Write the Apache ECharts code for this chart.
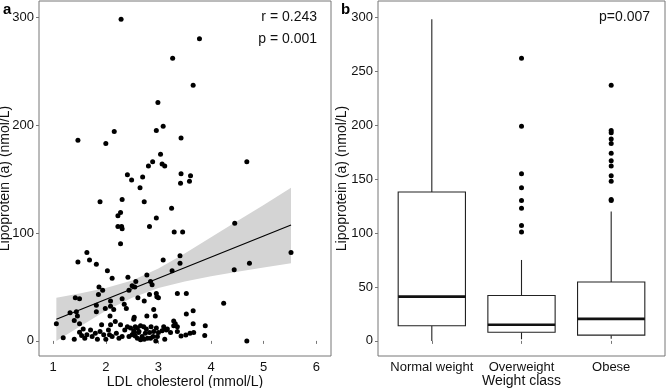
<!DOCTYPE html>
<html>
<head>
<meta charset="utf-8">
<script src="https://cdn.jsdelivr.net/npm/echarts@6/dist/echarts.min.js"></script>
<style>
  html, body { margin: 0; padding: 0; background: #fff; }
  #chart { width: 669px; height: 388px; }
</style>
</head>
<body>
<div id="chart"></div>
<script>
// panel a: LDL cholesterol vs Lp(a)
var scatterPoints = [
  [2.29, 298], [3.78, 280], [3.27, 262], [3.66, 237], [2.99, 221], [2.16, 194], [1.47, 186], [2.0, 183],
  [2.96, 195], [3.09, 199], [3.43, 188], [4.68, 166], [3.04, 173], [2.89, 166], [2.81, 162], [3.07, 164],
  [3.12, 162], [2.41, 154], [2.49, 149], [2.70, 152], [2.65, 142], [3.43, 155], [3.61, 153], [3.42, 146],
  [3.59, 148],
  [1.89, 129], [2.31, 131], [2.73, 129], [3.25, 123], [2.28, 119], [2.23, 116], [2.96, 114], [2.23, 106],
  [2.30, 106], [2.31, 104], [2.83, 106], [3.30, 101], [3.46, 101], [2.28, 90], [4.45, 109], [4.44, 66],
  [4.73, 72], [5.52, 82], [1.64, 82], [1.69, 75], [1.47, 73], [1.82, 71], [2.03, 65], [3.09, 75],
  [3.41, 79], [3.41, 72], [3.26, 65], [2.12, 58], [2.42, 59], [2.57, 55], [2.78, 61], [2.85, 55],
  [2.88, 52], [2.50, 51], [2.55, 50], [2.44, 47], [1.87, 50], [1.94, 47], [1.86, 43], [1.42, 40],
  [1.50, 39], [3.36, 44], [3.53, 44], [2.97, 41], [3.0, 40], [2.83, 43], [2.96, 44], [2.61, 40],
  [2.31, 39], [2.73, 37], [2.09, 37], [2.09, 32], [1.82, 33], [2.35, 34], [2.39, 30], [2.91, 29],
  [3.66, 28], [1.82, 27], [1.32, 26], [1.44, 27], [1.99, 30], [2.15, 29], [1.46, 23], [2.08, 23],
  [2.78, 23], [2.94, 23], [3.53, 25], [1.40, 19], [1.50, 16], [3.66, 16], [2.54, 22], [2.53, 20],
  [1.06, 16], [3.32, 16], [4.24, 35], [3.89, 14], [1.19, 3], [4.68, 0], [3.88, 5], [1.40, 1.5],
  [1.50, 8], [1.57, 11], [1.54, 5], [1.60, 2.5], [1.64, 5.6], [1.71, 10], [1.74, 4], [1.80, 7],
  [1.84, 1.5], [1.89, 8.6], [1.92, 15], [1.96, 5.6], [2.0, 1.5], [2.05, 10], [2.09, 15], [2.07, 5.6],
  [2.12, 4], [2.18, 18], [2.20, 7], [2.25, 2.5], [2.28, 15], [2.31, 4], [2.36, 10], [2.41, 13],
  [2.44, 4], [2.47, 12], [2.53, 7], [2.56, 13], [2.60, 2.5], [2.63, 8.6],
  [3.67, 7.7], [3.60, 7], [3.52, 5.5], [3.43, 4.6], [3.36, 8.6], [3.29, 14], [3.17, 11], [3.10, 13],
  [3.07, 9.5], [3.23, 7.7], [3.12, 1.5], [2.98, 4], [2.95, 0], [2.90, 4], [2.85, 2.5], [2.79, 2.5],
  [2.75, 7], [2.83, 7.7], [2.91, 8.6], [2.86, 13], [2.72, 13], [2.66, 14], [2.60, 12], [2.53, 9.5],
  [2.50, 5.6], [2.56, 4.6], [2.62, 7.7], [2.66, 1], [2.69, 4], [2.73, 1.5], [2.96, 12], [3.0, 7.7],
  [2.77, 11], [3.29, 18.5], [3.15, 10], [3.36, 13]
]
// fitted line and its confidence band
var fitX = [1.06, 5.52]
var fitY = [20, 107.4]
var bandX = [1.06, 1.5, 2, 2.5, 3, 3.5, 4, 4.5, 5, 5.52]
var bandUpper = [40, 44, 49, 56, 67, 81, 96, 111, 126, 142]
var bandLower = [0, 13, 28, 40, 49, 55, 60, 64, 68, 72]

// panel b: boxplots by weight class
var weightClasses = ['Normal weight', 'Overweight', 'Obese']
var boxLow = [0, 1.5, 2]
var boxQ1 = [14, 8, 5.3]
var boxMedian = [41, 15, 20.4]
var boxQ3 = [138, 42, 54.6]
var boxHigh = [298, 75, 120]
var outlierClass = [2, 2, 2, 2, 2, 2, 2, 2, 3, 3, 3, 3, 3, 3, 3, 3, 3, 3, 3, 3]
var outlierValue = [262, 199, 155, 142, 130, 123, 107, 101, 237, 195, 193, 187, 183, 174, 167, 162, 153, 148, 131, 130]

var ticksLDL = [1, 2, 3, 4, 5, 6]
var ticksLpaA = [0, 100, 200, 300]
var ticksLpaB = [0, 50, 100, 150, 200, 250, 300]

var FONT = 'Liberation Sans, Arial, sans-serif'
var INK = '#111'
var FRAME = '#777'

var myChart = echarts.init(document.getElementById('chart'))

function zip(a, b) {
  return a.map(function (v, i) { return [v, b[i]] })
}

// grey confidence ribbon, upper edge forward then lower edge back
function renderBand(params, api) {
  var pts = []
  bandX.forEach(function (x, i) { pts.push(api.coord([x, bandUpper[i]])) })
  for (var i = bandX.length - 1; i >= 0; i--) pts.push(api.coord([bandX[i], bandLower[i]]))
  return { type: 'polygon', shape: { points: pts }, style: { fill: '#d4d4d4' } }
}

// ggplot-like box: no whisker caps, thick median
function renderBox(params, api) {
  var x = api.value(0)
  var low = api.coord([x, api.value(1)])
  var q1 = api.coord([x, api.value(2)])
  var med = api.coord([x, api.value(3)])
  var q3 = api.coord([x, api.value(4)])
  var high = api.coord([x, api.value(5)])
  var w = api.size([0.75, 0])[0]
  var thin = { stroke: '#222', lineWidth: 1.1, fill: null }
  return {
    type: 'group',
    children: [
      { type: 'line', shape: { x1: high[0], y1: high[1], x2: q3[0], y2: q3[1] }, style: thin },
      { type: 'line', shape: { x1: q1[0], y1: q1[1], x2: low[0], y2: low[1] }, style: thin },
      { type: 'rect', shape: { x: q3[0] - w / 2, y: q3[1], width: w, height: q1[1] - q3[1] },
        style: { stroke: '#222', lineWidth: 1.1, fill: '#fff' } },
      { type: 'line', shape: { x1: med[0] - w / 2, y1: med[1], x2: med[0] + w / 2, y2: med[1] },
        style: { stroke: '#111', lineWidth: 2.6 } }
    ]
  }
}

function valueAxis(grid, min, max, ticks, name, gap) {
  return {
    type: 'value',
    gridIndex: grid,
    min: min,
    max: max,
    name: name,
    nameLocation: 'middle',
    nameGap: gap,
    nameMoveOverlap: false,
    nameTextStyle: { color: INK, fontSize: 14, fontFamily: FONT },
    axisLine: { show: false },
    axisTick: { show: true, length: 3, lineStyle: { color: FRAME }, customValues: ticks },
    axisLabel: { color: INK, fontSize: 13, fontFamily: FONT, margin: 5, customValues: ticks },
    splitLine: { show: false }
  }
}

var boxData = weightClasses.map(function (c, i) {
  return [i + 1, boxLow[i], boxQ1[i], boxMedian[i], boxQ3[i], boxHigh[i]]
})

var xB = valueAxis(1, 0.4, 3.6, [1, 2, 3], 'Weight class', 18)
xB.axisLabel.formatter = function (v) { return weightClasses[Math.round(v) - 1] }

var option = {
  animation: false,
  backgroundColor: '#fff',
  grid: [
    { left: 39, top: 1, width: 292, height: 355, outerBoundsMode: 'none', containLabel: false,
      show: true, borderColor: FRAME, borderWidth: 1, backgroundColor: '#fff' },
    { left: 378, top: 1, width: 287, height: 355, outerBoundsMode: 'none', containLabel: false,
      show: true, borderColor: FRAME, borderWidth: 1, backgroundColor: '#fff' }
  ],
  xAxis: [
    valueAxis(0, 0.73, 6.28, ticksLDL, 'LDL cholesterol (mmol/L)', 19),
    xB
  ],
  yAxis: [
    valueAxis(0, -14, 315, ticksLpaA, 'Lipoprotein (a) (nmol/L)', 27),
    valueAxis(1, -14, 315, ticksLpaB, 'Lipoprotein (a) (nmol/L)', 29)
  ],
  graphic: [
    { type: 'text', x: 3, y: 10, style: { text: 'a', font: 'bold 15px ' + FONT, fill: '#000', verticalAlign: 'middle' } },
    { type: 'text', x: 341, y: 10, style: { text: 'b', font: 'bold 15px ' + FONT, fill: '#000', verticalAlign: 'middle' } },
    { type: 'text', x: 317, y: 17, style: { text: 'r = 0.243', font: '14px ' + FONT, fill: INK, align: 'right', verticalAlign: 'middle' } },
    { type: 'text', x: 317, y: 39, style: { text: 'p = 0.001', font: '14px ' + FONT, fill: INK, align: 'right', verticalAlign: 'middle' } },
    { type: 'text', x: 650, y: 17, style: { text: 'p=0.007', font: '14px ' + FONT, fill: INK, align: 'right', verticalAlign: 'middle' } }
  ],
  series: [
    {
      type: 'custom',
      xAxisIndex: 0, yAxisIndex: 0,
      renderItem: renderBand,
      data: [[bandX[0], bandLower[0]]],
      z: 1
    },
    {
      type: 'scatter',
      xAxisIndex: 0, yAxisIndex: 0,
      symbolSize: 5,
      itemStyle: { color: '#000', opacity: 1 },
      data: scatterPoints,
      z: 3
    },
    {
      type: 'line',
      xAxisIndex: 0, yAxisIndex: 0,
      symbol: 'none',
      lineStyle: { color: '#000', width: 1.2 },
      data: zip(fitX, fitY),
      z: 4
    },
    {
      type: 'custom',
      xAxisIndex: 1, yAxisIndex: 1,
      renderItem: renderBox,
      encode: { x: 0, y: [1, 2, 3, 4, 5] },
      data: boxData
    },
    {
      type: 'scatter',
      xAxisIndex: 1, yAxisIndex: 1,
      symbolSize: 5,
      itemStyle: { color: '#000', opacity: 1 },
      data: zip(outlierClass, outlierValue)
    }
  ]
}

myChart.setOption(option)
</script>
</body>
</html>
